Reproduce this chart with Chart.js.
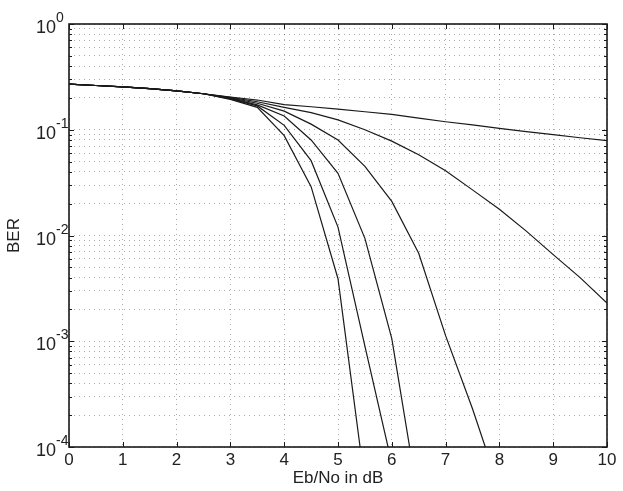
<!DOCTYPE html>
<html>
<head>
<meta charset="utf-8">
<script src="https://cdn.jsdelivr.net/npm/chart.js@4"></script>
<style>
  html, body { margin: 0; padding: 0; background: #fff; }
  #wrap { width: 623px; height: 491px; }
</style>
</head>
<body>
<div id="wrap"><canvas id="berChart" width="623" height="491"></canvas></div>
<script>
// Eb/No points (dB), one value every 0.5 dB
var ebNo = [0, 0.5, 1, 1.5, 2, 2.5, 3, 3.5, 4, 4.5, 5, 5.5, 6, 6.5, 7, 7.5, 8, 8.5, 9, 9.5, 10];

// BER per curve (curves stop once they leave the plot)
var ber1 = [0.270, 0.262, 0.254, 0.245, 0.233, 0.219, 0.204, 0.191, 0.173, 0.165, 0.157, 0.148, 0.140, 0.129, 0.119, 0.111, 0.103, 0.096, 0.090, 0.084, 0.0788];
var ber2 = [0.270, 0.262, 0.254, 0.245, 0.233, 0.219, 0.202, 0.184, 0.163, 0.145, 0.124, 0.100, 0.078, 0.058, 0.041, 0.027, 0.0177, 0.011, 0.0066, 0.0040, 0.0023];
var ber3 = [0.270, 0.262, 0.254, 0.245, 0.233, 0.219, 0.200, 0.178, 0.150, 0.113, 0.080, 0.045, 0.021, 0.0068, 0.00113, 0.00023, 0.00004];
var ber4 = [0.270, 0.262, 0.254, 0.245, 0.233, 0.219, 0.198, 0.172, 0.135, 0.080, 0.0387, 0.0094, 0.00106, 0.00003];
var ber5 = [0.270, 0.262, 0.254, 0.245, 0.233, 0.219, 0.196, 0.168, 0.110, 0.051, 0.012, 0.0009, 0.00007];
var ber6 = [0.270, 0.262, 0.254, 0.245, 0.233, 0.219, 0.194, 0.163, 0.088, 0.029, 0.0039, 0.000045];

var xTicks = [0, 1, 2, 3, 4, 5, 6, 7, 8, 9, 10];
var yDecades = [-4, -3, -2, -1, 0];

var FONT = '"Liberation Sans", Arial, sans-serif';

// y ticks : 1..9 x 10^n for every decade (grid minor)
var yTickValues = [];
yDecades.forEach(function (e) {
    for (var m = 1; m <= 9; m++) {
        var v = m * Math.pow(10, e);
        if (v <= 1) yTickValues.push(v);
    }
});

var toPoints = function (ber) {
    return ber.map(function (y, i) { return { x: ebNo[i], y: y }; });
};

var makeDataset = function (ber) {
    return {
        data: toPoints(ber),
        borderColor: '#1a1a1a',
        borderWidth: 1.2,
        pointRadius: 0,
        tension: 0,
        fill: false
    };
};

// box, inward ticks and 10^n labels like matlab
var matlabAxes = {
    id: 'matlabAxes',
    afterDraw: function (chart) {
        var ctx = chart.ctx;
        var a = chart.chartArea;
        var xs = chart.scales.x;
        var ys = chart.scales.y;
        ctx.save();
        ctx.strokeStyle = '#1a1a1a';
        ctx.lineWidth = 1;

        xTicks.forEach(function (t) {
            var px = Math.round(xs.getPixelForValue(t)) + 0.5;
            ctx.beginPath();
            ctx.moveTo(px, a.bottom); ctx.lineTo(px, a.bottom - 5);
            ctx.moveTo(px, a.top); ctx.lineTo(px, a.top + 5);
            ctx.stroke();
        });
        yTickValues.forEach(function (v) {
            var py = Math.round(ys.getPixelForValue(v)) + 0.5;
            var major = Math.abs(Math.log10(v) - Math.round(Math.log10(v))) < 1e-9;
            var len = major ? 5 : 3;
            ctx.beginPath();
            ctx.moveTo(a.left, py); ctx.lineTo(a.left + len, py);
            ctx.moveTo(a.right, py); ctx.lineTo(a.right - len, py);
            ctx.stroke();
        });

        ctx.lineWidth = 1.6;
        ctx.strokeRect(a.left, a.top, a.right - a.left, a.bottom - a.top);

        ctx.fillStyle = '#222';
        yDecades.forEach(function (e) {
            var py = ys.getPixelForValue(Math.pow(10, e));
            ctx.font = '18px ' + FONT;
            ctx.textAlign = 'right';
            ctx.textBaseline = 'alphabetic';
            ctx.fillText('10', 56, py + 9);
            ctx.font = '14px ' + FONT;
            ctx.textAlign = 'left';
            ctx.fillText(String(e), 56, py - 2);
        });
        ctx.restore();
    }
};

var ctx = document.getElementById('berChart');
var berChart = new Chart(ctx, {
    type: 'line',
    data: {
        datasets: [makeDataset(ber1), makeDataset(ber2), makeDataset(ber3),
                   makeDataset(ber4), makeDataset(ber5), makeDataset(ber6)]
    },
    options: {
        responsive: false,
        animation: false,
        layout: { padding: { top: 24, right: 16, left: 0, bottom: 0 } },
        plugins: {
            legend: { display: false },
            tooltip: { enabled: false }
        },
        scales: {
            x: {
                type: 'linear',
                min: 0,
                max: 10,
                afterBuildTicks: function (scale) {
                    scale.ticks = xTicks.map(function (v) { return { value: v }; });
                },
                afterFit: function (scale) { scale.height = 44; },
                grid: {
                    color: 'rgba(0,0,0,0.33)',
                    lineWidth: 1,
                    drawTicks: false
                },
                border: { display: false, dash: [1, 4] },
                ticks: {
                    color: '#222',
                    padding: 3,
                    maxRotation: 0,
                    font: { family: FONT, size: 17 }
                },
                title: {
                    display: true,
                    text: 'Eb/No in dB',
                    color: '#222',
                    padding: { top: 0, bottom: 2 },
                    font: { family: FONT, size: 17 }
                }
            },
            y: {
                type: 'logarithmic',
                min: 1e-4,
                max: 1,
                afterBuildTicks: function (scale) {
                    scale.ticks = yTickValues.map(function (v) { return { value: v }; });
                },
                afterFit: function (scale) { scale.width = 69; },
                grid: {
                    color: 'rgba(0,0,0,0.33)',
                    lineWidth: 1,
                    drawTicks: false
                },
                border: { display: false, dash: [1, 4] },
                ticks: { display: false },
                title: {
                    display: true,
                    text: 'BER',
                    color: '#222',
                    padding: { top: 4, bottom: 0 },
                    font: { family: FONT, size: 17 }
                }
            }
        }
    },
    plugins: [matlabAxes]
});
</script>
</body>
</html>
